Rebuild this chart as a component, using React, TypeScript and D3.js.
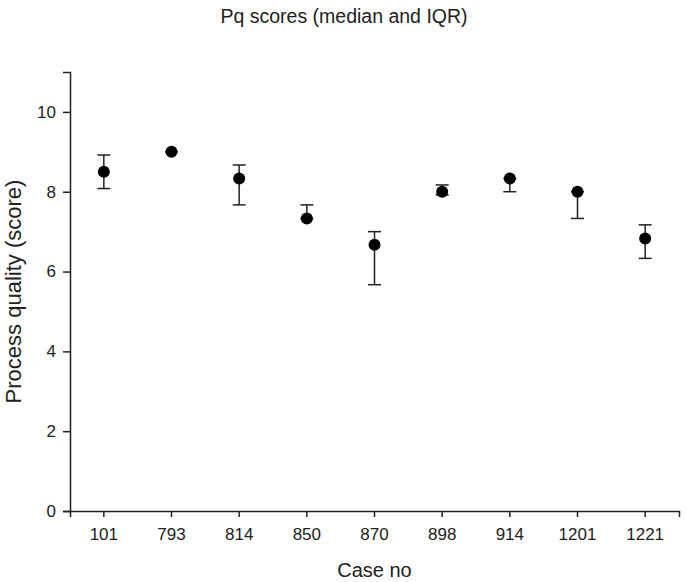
import { useEffect, useRef } from 'react';
import * as d3 from 'd3';

const cases = ['101', '793', '814', '850', '870', '898', '914', '1201', '1221'];
const medians = [8.5, 9.0, 8.33, 7.33, 6.67, 8.0, 8.33, 8.0, 6.83];
const lowerQ = [8.08, 9.0, 7.67, 7.33, 5.67, 7.92, 8.0, 7.33, 6.33];
const upperQ = [8.92, 9.0, 8.67, 7.67, 7.0, 8.17, 8.33, 8.0, 7.17];
const yTicks = [0, 2, 4, 6, 8, 10];

export default function App() {
  const svgRef = useRef<SVGSVGElement>(null);

  useEffect(() => {
    if (!svgRef.current) return;
    const svg = d3.select(svgRef.current);
    svg.selectAll('*').remove();

    const width = 686;
    const height = 582;
    const margin = { top: 72, right: 7, bottom: 71, left: 70 };
    const font = '"Liberation Sans", Arial, sans-serif';
    const ink = '#222';

    const x = d3
      .scaleBand<string>()
      .domain(cases)
      .range([margin.left, width - margin.right])
      .padding(0);

    const y = d3
      .scaleLinear()
      .domain([0, 11])
      .range([height - margin.bottom, margin.top]);

    // axes
    const xAxis = svg
      .append('g')
      .attr('transform', `translate(0,${y(0)})`)
      .call(d3.axisBottom(x).tickSizeOuter(0).tickSize(6).tickPadding(11));
    xAxis.select('.domain').attr('stroke', ink).attr('stroke-width', 1.5);
    xAxis.selectAll('.tick line').attr('stroke', ink).attr('stroke-width', 1.5);
    xAxis
      .selectAll('.tick text')
      .attr('fill', ink)
      .style('font-family', font)
      .style('font-size', '17px');

    const yAxis = svg
      .append('g')
      .attr('transform', `translate(${margin.left},0)`)
      .call(d3.axisLeft(y).tickValues(yTicks).tickSizeOuter(0).tickSize(7).tickPadding(7));
    yAxis.select('.domain').attr('stroke', ink).attr('stroke-width', 1.5);
    yAxis.selectAll('.tick line').attr('stroke', ink).attr('stroke-width', 1.5);
    yAxis
      .selectAll('.tick text')
      .attr('fill', ink)
      .style('font-family', font)
      .style('font-size', '17px');

    // error bars (IQR)
    const cx = (i: number) => (x(cases[i]) as number) + x.bandwidth() / 2;
    const capHalf = 6.5;
    const bars = svg.append('g').attr('stroke', ink).attr('stroke-width', 1.5);
    cases.forEach((_, i) => {
      bars
        .append('line')
        .attr('x1', cx(i))
        .attr('x2', cx(i))
        .attr('y1', y(lowerQ[i]))
        .attr('y2', y(upperQ[i]));
      [lowerQ[i], upperQ[i]].forEach((v) => {
        bars
          .append('line')
          .attr('x1', cx(i) - capHalf)
          .attr('x2', cx(i) + capHalf)
          .attr('y1', y(v))
          .attr('y2', y(v));
      });
    });

    // medians
    svg
      .append('g')
      .selectAll('circle')
      .data(medians)
      .enter()
      .append('circle')
      .attr('cx', (_, i) => cx(i))
      .attr('cy', (d) => y(d))
      .attr('r', 6)
      .attr('fill', '#000');

    // titles
    svg
      .append('text')
      .attr('x', 344)
      .attr('y', 23)
      .attr('text-anchor', 'middle')
      .attr('fill', ink)
      .style('font-family', font)
      .style('font-size', '19.5px')
      .text('Pq scores (median and IQR)');

    svg
      .append('text')
      .attr('x', (margin.left + width - margin.right) / 2)
      .attr('y', 577)
      .attr('text-anchor', 'middle')
      .attr('fill', ink)
      .style('font-family', font)
      .style('font-size', '20px')
      .text('Case no');

    svg
      .append('text')
      .attr('transform', `translate(21,${(y(0) + y(11)) / 2}) rotate(-90)`)
      .attr('text-anchor', 'middle')
      .attr('fill', ink)
      .style('font-family', font)
      .style('font-size', '22px')
      .text('Process quality (score)');
  }, []);

  return (
    <svg
      ref={svgRef}
      width={686}
      height={582}
      style={{ position: 'absolute', left: 0, top: 0, background: '#fff' }}
    />
  );
}
